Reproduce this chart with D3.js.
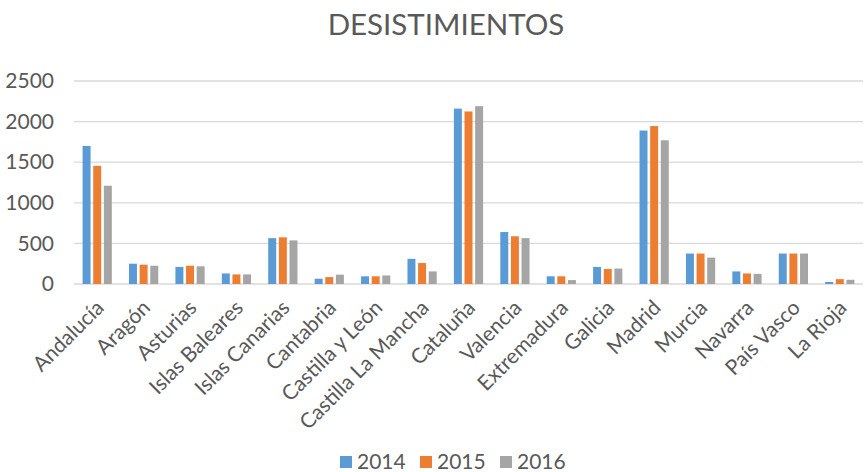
<!DOCTYPE html>
<html>
<head>
<meta charset="utf-8">
<script src="https://cdn.jsdelivr.net/npm/d3@7"></script>
<style>
  body { margin: 0; background: #fff; }
  svg { display: block; font-family: Lato, "Open Sans", sans-serif; }
</style>
</head>
<body>
<svg width="864" height="472"></svg>
<script>
"use strict";

const regions = ["Andalucía", "Aragón", "Asturias", "Islas Baleares", "Islas Canarias", "Cantabria",
    "Castilla y León", "Castilla La Mancha", "Cataluña", "Valencia", "Extremadura", "Galicia",
    "Madrid", "Murcia", "Navarra", "País Vasco", "La Rioja"];
const years = ["2014", "2015", "2016"];
const values2014 = [1700, 250, 210, 130, 565, 65, 95, 310, 2160, 640, 95, 210, 1890, 375, 155, 375, 25];
const values2015 = [1455, 238, 225, 118, 575, 85, 95, 258, 2125, 588, 95, 185, 1945, 375, 130, 375, 60];
const values2016 = [1210, 225, 218, 118, 537, 115, 105, 155, 2190, 565, 48, 190, 1770, 325, 125, 375, 52];
const yTicks = [0, 500, 1000, 1500, 2000, 2500];
const colors = ["#5B9BD5", "#ED7D31", "#A5A5A5"];

const series = [values2014, values2015, values2016];

const svg = d3.select("svg"),
    margin = {left: 74, right: 1, top: 81, bottom: 188},
    width = 864,
    height = 472;

const x = d3.scaleBand()
    .domain(regions)
    .range([margin.left, width - margin.right])
    .paddingInner(0.37)
    .paddingOuter(0.185);

const xSub = d3.scaleBand()
    .domain(years)
    .range([0, x.bandwidth()])
    .paddingInner(0.25);

const y = d3.scaleLinear()
    .domain([0, 2500])
    .range([height - margin.bottom, margin.top]);

// title
svg.append("text")
    .attr("x", 446)
    .attr("y", 35)
    .attr("text-anchor", "middle")
    .attr("fill", "#595959")
    .attr("font-size", 29.5)
    .text("DESISTIMIENTOS");

// gridlines
svg.append("g")
    .selectAll("line")
    .data(yTicks)
    .join("line")
    .attr("x1", margin.left)
    .attr("x2", width - margin.right)
    .attr("y1", d => y(d))
    .attr("y2", d => y(d))
    .attr("stroke", "#D9D9D9")
    .attr("stroke-width", 1.3);

// y axis labels
const yAxis = svg.append("g")
    .attr("transform", `translate(${margin.left - 20},0)`)
    .call(d3.axisLeft(y).tickValues(yTicks).tickFormat(d3.format("d")).tickSize(0).tickPadding(0));
yAxis.select(".domain").remove();
yAxis.selectAll("text")
    .attr("fill", "#595959")
    .attr("font-size", 21)
    .attr("font-family", "Lato, sans-serif");

// bars
svg.append("g")
    .selectAll("g")
    .data(series)
    .join("g")
    .attr("fill", (d, i) => colors[i])
    .selectAll("rect")
    .data((d, i) => d.map((v, j) => ({region: regions[j], year: years[i], value: v})))
    .join("rect")
    .attr("x", d => x(d.region) + xSub(d.year))
    .attr("width", xSub.bandwidth())
    .attr("y", d => y(d.value))
    .attr("height", d => y(0) - y(d.value));

// x axis labels
const xAxis = svg.append("g")
    .attr("transform", `translate(0,${y(0)})`)
    .call(d3.axisBottom(x).tickSize(0).tickPadding(0));
xAxis.select(".domain").remove();
xAxis.selectAll("text")
    .attr("fill", "#595959")
    .attr("font-size", 21)
    .attr("font-family", "Lato, sans-serif")
    .attr("text-anchor", "end")
    .attr("dy", null)
    .attr("y", 0)
    .attr("transform", "translate(8,25) rotate(-45)");

// legend
const legend = svg.append("g")
    .attr("transform", "translate(340,0)")
    .selectAll("g")
    .data(years)
    .join("g")
    .attr("transform", (d, i) => `translate(${i * 80},0)`);
legend.append("rect")
    .attr("x", 0)
    .attr("y", 456)
    .attr("width", 12)
    .attr("height", 12)
    .attr("fill", (d, i) => colors[i]);
legend.append("text")
    .attr("x", 17)
    .attr("y", 469)
    .attr("fill", "#595959")
    .attr("font-size", 21)
    .text(d => d);
</script>
</body>
</html>
